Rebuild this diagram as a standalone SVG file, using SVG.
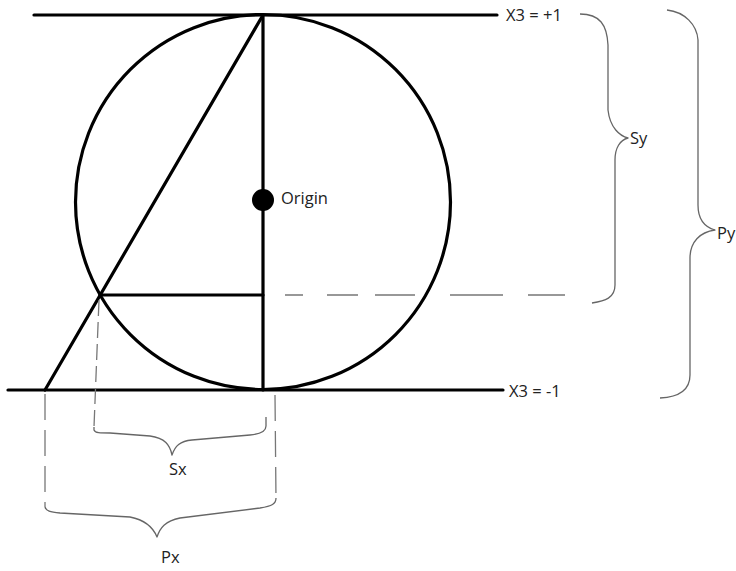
<svg xmlns="http://www.w3.org/2000/svg" width="736" height="571" viewBox="0 0 736 571">
<style>
.thick{fill:none;stroke:#000;stroke-width:3.2;stroke-linecap:round}
.brace{fill:none;stroke:#666;stroke-width:1.3;stroke-linejoin:round}
.dash{fill:none;stroke:#777;stroke-width:1.3}
.lbl{font-family:"Open Sans","Liberation Sans",sans-serif;font-size:16.5px;fill:#222}
</style>
<rect width="736" height="571" fill="#fff"/>
<g id="geometry">
<line class="thick" x1="34" y1="15" x2="497" y2="15"/>
<line class="thick" x1="8" y1="390" x2="503" y2="390"/>
<circle class="thick" cx="263" cy="202" r="187.5"/>
<line class="thick" x1="263" y1="15" x2="263" y2="390"/>
<line class="thick" x1="263" y1="15" x2="45" y2="390"/>
<line class="thick" x1="100" y1="295" x2="263" y2="295"/>
</g>
<g id="origin">
<circle cx="263" cy="200" r="11" fill="#000"/>
<text class="lbl" x="281" y="204">Origin</text>
</g>
<g id="label-top"><text class="lbl" x="506" y="21">X3 = +1</text></g>
<g id="label-bottom"><text class="lbl" x="509" y="397">X3 = -1</text></g>
<g id="connectors">
<path class="dash" d="M285,295 H303 M327,295 H358 M375,295 H415 M450,295 H503 M528,295 H565"/>
<path class="dash" d="M99,300 L94,427" stroke-dasharray="16 6"/>
<path class="dash" d="M45,394 L45,507" stroke-dasharray="26 10"/>
<path class="dash" d="M275,395 L276,500" stroke-dasharray="26 10"/>
</g>
<g id="sy">
<path class="brace" d="M580,14 C600,14 607,25 608,45 L608,110 C610,128 620,136 628,138 C620,140 615,148 615,160 L615,285 C615,298 605,301 592,303"/>
<text class="lbl" x="630" y="144">Sy</text>
</g>
<g id="py">
<path class="brace" d="M667,10 C685,12 697,25 698,40 L698,205 C698,222 708,228 715,230 C700,232 690,242 690,258 L690,375 C690,390 680,397 660,398"/>
<text class="lbl" x="717" y="239">Py</text>
</g>
<g id="sx">
<path class="brace" d="M94,427 L94,430 C95,433 100,433 110,433 L150,436 C165,438 170,445 172,455 C175,446 180,441 192,440 L250,435 C262,434 266,431 266,426 L266,417"/>
<text class="lbl" x="169" y="475">Sx</text>
</g>
<g id="px">
<path class="brace" d="M45,507 C46,511 50,512 60,513 L130,517 C145,520 153,527 157,537 C160,528 165,521 180,518 L260,508 C272,506 276,504 276,498"/>
<text class="lbl" x="161" y="563">Px</text>
</g>
</svg>
